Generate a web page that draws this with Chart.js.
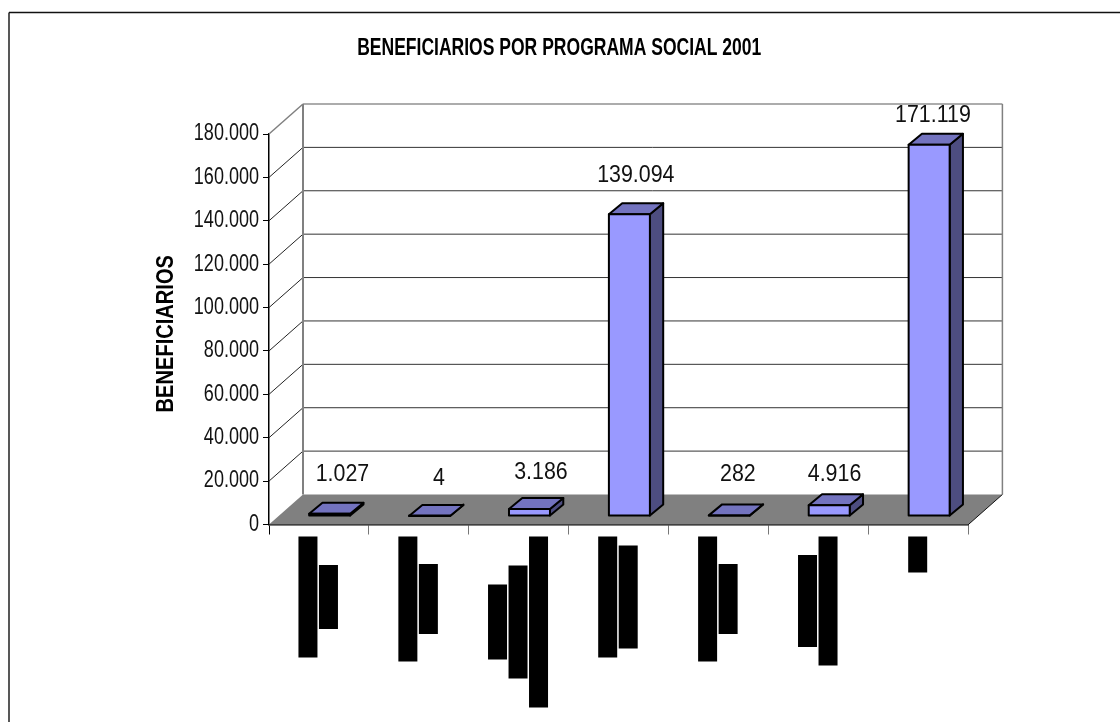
<!DOCTYPE html>
<html><head><meta charset="utf-8">
<style>html,body{margin:0;padding:0;background:#fff}canvas{display:block}</style>
<script src="https://cdn.jsdelivr.net/npm/chart.js@4"></script>
</head><body>
<canvas id="c" width="1120" height="722"></canvas>
<script>
const titleText = 'BENEFICIARIOS POR PROGRAMA SOCIAL 2001';
const yAxisTitle = 'BENEFICIARIOS';
const categories = ['Programa 1','Programa 2','Programa 3','Programa 4','Programa 5','Programa 6','Programa 7'];
const beneficiarios = [1027, 4, 3186, 139094, 282, 4916, 171119];
const valueLabels = ['1.027','4','3.186','139.094','282','4.916','171.119'];
const yTicks = [0,20000,40000,60000,80000,100000,120000,140000,160000,180000];
// lengths of the blacked-out lines of each category label
const blackedOutLabelLines = [[121,64],[125,70],[75,113,171],[121,103],[125,70],[92,129],[36]];
// hand-placed offsets of the value labels, relative to the top-centre of the bar
const labelNudgeX = [12.8, 9.4, 11.5, 6.4, 8.6, 5.3, 3.8];
const labelNudgeY = [-40.3, -38, -37.6, -40, -41.9, -31.8, -30];

const FONT = '"Liberation Sans", Arial, sans-serif';
const WALL = {dx: 34, dy: -30};
const BAR = {dx: 10.7, dy: -8.5, sideX: 13.3, sideY: -11};

// The reference's text is horizontally condensed; apply that to every string drawn on this canvas.
const canvas = document.getElementById('c');
const rawCtx = canvas.getContext('2d');
const plainFillText = rawCtx.fillText.bind(rawCtx);
rawCtx.fillText = function (text, x, y, maxWidth) {
  let sx = 0.784, shift = 0;
  if (text === titleText) sx = 0.762;
  else if (text === yAxisTitle) { sx = 0.837; shift = -4.5; }
  else if (valueLabels.includes(text)) sx = 0.93;
  rawCtx.save();
  rawCtx.translate(x + shift, y);
  rawCtx.scale(sx, 1);
  if (maxWidth === undefined) plainFillText(text, 0, 0); else plainFillText(text, 0, 0, maxWidth / sx);
  rawCtx.restore();
};

function poly(ctx, pts, fill, stroke, lw) {
  ctx.beginPath();
  pts.forEach((p, i) => i ? ctx.lineTo(p[0], p[1]) : ctx.moveTo(p[0], p[1]));
  ctx.closePath();
  if (fill) { ctx.fillStyle = fill; ctx.fill(); }
  if (stroke) { ctx.strokeStyle = stroke; ctx.lineWidth = lw; ctx.lineJoin = 'round'; ctx.stroke(); }
}
function seg(ctx, x1, y1, x2, y2, color, lw) {
  ctx.beginPath(); ctx.moveTo(x1, y1); ctx.lineTo(x2, y2);
  ctx.strokeStyle = color; ctx.lineWidth = lw; ctx.stroke();
}

const box3d = {
  id: 'box3d',
  beforeDraw(chart) {
    const {ctx} = chart;
    ctx.save();
    seg(ctx, 9, 12.5, 1120, 12.5, '#111', 1.4);
    seg(ctx, 9, 12.5, 9, 722, '#111', 1.4);
    ctx.restore();
  },
  beforeDatasetsDraw(chart) {
    const {ctx, chartArea: a, scales: {y}} = chart;
    ctx.save();
    const d = WALL;
    const y0 = y.getPixelForValue(0);
    poly(ctx, [[a.left, y0], [a.left + d.dx, y0 + d.dy], [a.right + d.dx, y0 + d.dy], [a.right, y0]], '#808080');
    yTicks.forEach((t, i) => {
      const py = y.getPixelForValue(t);
      const top = i === yTicks.length - 1;
      if (i > 0) {
        seg(ctx, a.left + d.dx, py + d.dy, a.right + d.dx, py + d.dy, top ? '#909090' : '#333', top ? 1.5 : 1);
        seg(ctx, a.left, py, a.left + d.dx, py + d.dy, top ? '#808080' : '#222', top ? 1.5 : 1);
      }
    });
    const yt = y.getPixelForValue(180000);
    seg(ctx, a.left + d.dx, yt + d.dy, a.left + d.dx, y0 + d.dy, '#808080', 2);
    seg(ctx, a.right + d.dx, yt + d.dy, a.right + d.dx, y0 + d.dy, '#808080', 1.5);
    seg(ctx, a.right, y0, a.right + d.dx, y0 + d.dy, '#111', 1);
    ctx.restore();

    // bar depth faces, then shift so the library's bars sit on the floor
    ctx.save();
    ctx.translate(BAR.dx, BAR.dy);
    chart.getDatasetMeta(0).data.forEach(bar => {
      const {x, y: ty, base, width} = bar.getProps(['x', 'y', 'base', 'width'], true);
      const l = x - width / 2, r = x + width / 2;
      poly(ctx, [[r, ty], [r + BAR.sideX, ty + BAR.sideY], [r + BAR.sideX, base + BAR.sideY], [r, base]], '#4D4D80', '#000', 2);
      poly(ctx, [[l, ty], [l + BAR.sideX, ty + BAR.sideY], [r + BAR.sideX, ty + BAR.sideY], [r, ty]], '#7373BF', '#000', 2);
    });
  },
  afterDatasetsDraw(chart) {
    const {ctx} = chart;
    // crisp outline of each front face, also for the very short bars
    chart.getDatasetMeta(0).data.forEach(bar => {
      const {x, y: ty, base, width} = bar.getProps(['x', 'y', 'base', 'width'], true);
      ctx.strokeStyle = '#000';
      ctx.lineWidth = 2;
      ctx.strokeRect(x - width / 2, ty, width, base - ty);
    });
    ctx.restore();
    ctx.save();
    ctx.font = '23px ' + FONT;
    ctx.fillStyle = '#111';
    ctx.textAlign = 'center';
    ctx.textBaseline = 'middle';
    chart.getDatasetMeta(0).data.forEach((bar, i) => {
      const {x, y: ty} = bar.getProps(['x', 'y'], true);
      ctx.fillText(valueLabels[i], x + BAR.dx + labelNudgeX[i], ty + BAR.dy + labelNudgeY[i] + 1);
    });
    ctx.restore();
  },
  afterDraw(chart) {
    const {ctx, scales: {x}} = chart;
    const pitch = 20.5, w = 19, top = 536.5;
    ctx.save();
    ctx.fillStyle = '#000';
    blackedOutLabelLines.forEach((lines, i) => {
      const cx = x.getPixelForTick(i);
      const max = Math.max(...lines);
      lines.forEach((len, k) => {
        const lx = cx - lines.length * pitch / 2 + k * pitch;
        ctx.fillRect(lx, top + (max - len) / 2, w, len);
      });
    });
    ctx.restore();
  }
};

new Chart(canvas, {
  type: 'bar',
  data: {
    labels: categories,
    datasets: [{
      data: beneficiarios,
      backgroundColor: '#9999FF',
      borderColor: '#000',
      borderWidth: 0,
      borderSkipped: false,
      barThickness: 41,
      clip: false
    }]
  },
  options: {
    responsive: false,
    animation: false,
    layout: {padding: {left: 150, right: 151.6, top: 20, bottom: 187.5}},
    plugins: {
      legend: {display: false},
      tooltip: {enabled: false},
      title: {
        display: true,
        text: titleText,
        color: '#000',
        font: {family: FONT, size: 23, weight: 'bold', lineHeight: 1.2},
        padding: {top: 15.2, bottom: 71.2}
      }
    },
    scales: {
      x: {
        afterFit(s) { s.height = 10; },
        offset: true,
        grid: {
          drawOnChartArea: false, drawTicks: true, tickLength: 10, offset: true,
          color: c => (c.index === 0 || c.index === categories.length) ? '#000' : '#777'
        },
        border: {color: '#000', width: 1.5},
        ticks: {callback: () => '', maxRotation: 0, padding: 0}
      },
      y: {
        min: 0, max: 180000,
        afterFit(s) { s.width = 119; },
        grid: {drawOnChartArea: false, drawTicks: true, tickLength: 6, color: '#000'},
        border: {color: '#000', width: 1.5},
        ticks: {
          stepSize: 20000,
          padding: 4,
          color: '#111',
          font: {family: FONT, size: 23},
          callback: v => v.toLocaleString('de-DE')
        },
        title: {
          display: true,
          text: yAxisTitle,
          color: '#000',
          font: {family: FONT, size: 24, weight: 'bold'},
          padding: {top: 1.5, bottom: 0}
        }
      }
    }
  },
  plugins: [box3d]
});
</script>
</body></html>
